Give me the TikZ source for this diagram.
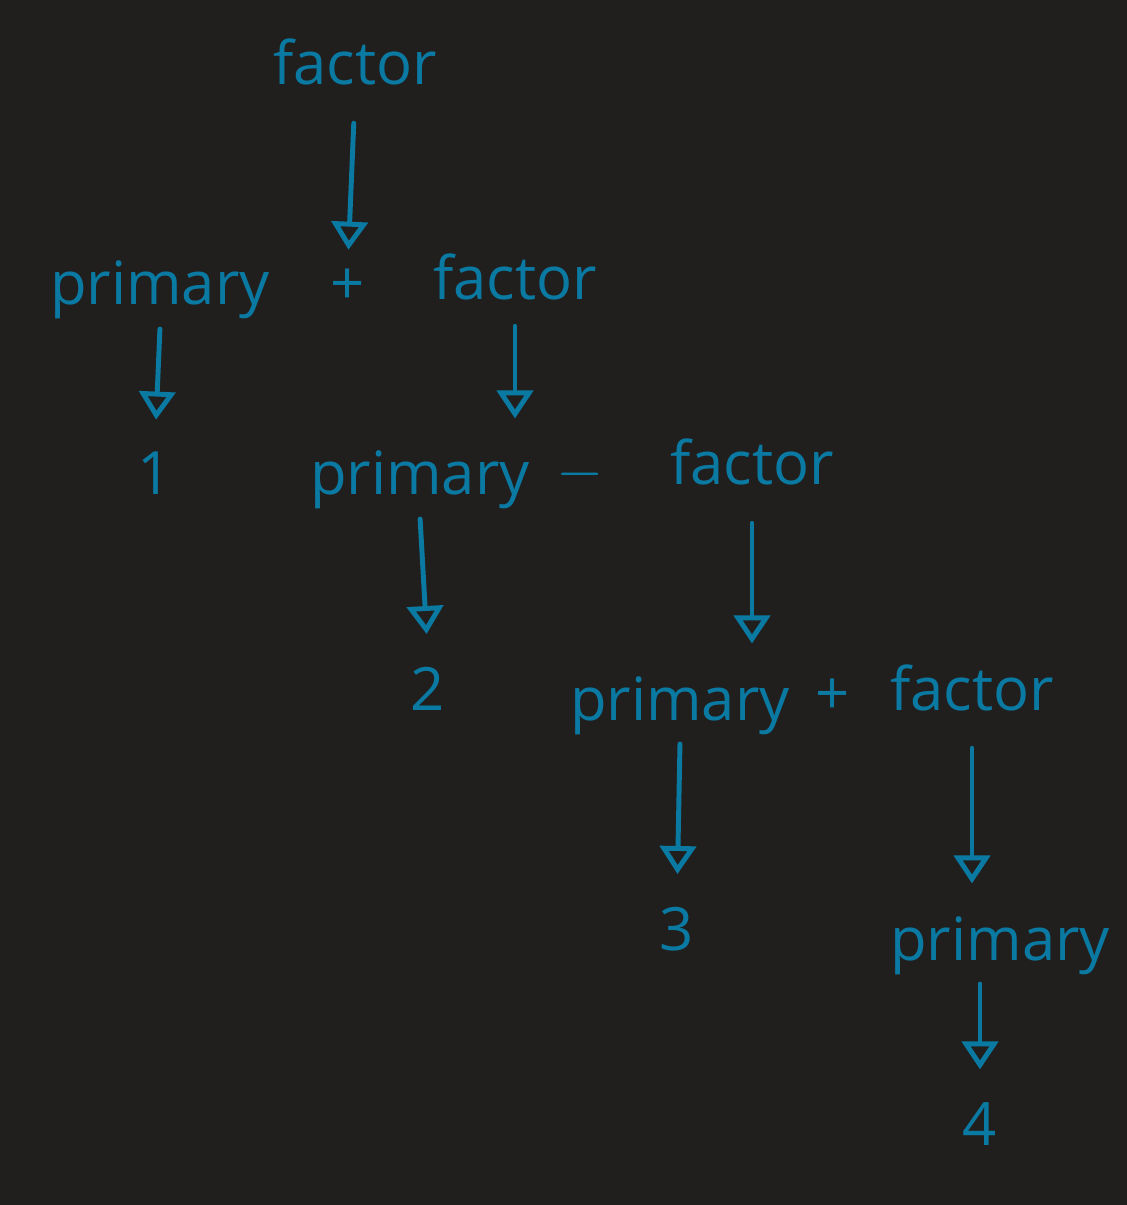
\documentclass[tikz,border=0pt]{standalone}
\usepackage{fontspec}
\setmainfont{Open Sans}
\usetikzlibrary{arrows.meta,positioning}
\definecolor{board}{HTML}{201F1E}
\definecolor{ink}{HTML}{0A7AA3}
\tikzset{
  word/.style={text=ink,font=\fontsize{17}{20}\selectfont,inner sep=2pt,anchor=base},
  derive/.style={-{Triangle[open,length=0.28cm,width=0.36cm]},draw=ink,line width=1.4pt,line cap=round,shorten <=0.3cm,shorten >=0.25cm},
  fromprim/.style={derive,shorten <=0.02cm}
}
\begin{document}
\begin{tikzpicture}[x=1cm,y=1cm]
  \fill[board] (0,0) rectangle (11.27,-12.05);
  \useasboundingbox (0,0) rectangle (11.27,-12.05);
  % Top rule
  \node[word] (f0) at (3.55,-0.85) {factor};

  % factor -> primary + factor
  \node[word] (pr1) at (1.60,-3.05) {primary};
  \node[word] (pl1) at (3.48,-3.05) {+};
  \node[word] (f1) at (5.15,-3.00) {factor};
  \node[word] (n1) at (1.55,-4.95) {1};

  % factor -> primary - factor
  \node[word] (pr2) at (4.20,-4.95) {primary};
  \node[word] (mi2) at (5.80,-4.90) {$-$};
  \node[word] (f2) at (7.52,-4.85) {factor};
  \node[word] (n2) at (4.28,-7.10) {2};

  % factor -> primary + factor
  \node[word] (pr3) at (6.80,-7.20) {primary};
  \node[word] (pl3) at (8.33,-7.15) {+};
  \node[word] (f3) at (9.72,-7.10) {factor};
  \node[word] (n3) at (6.77,-9.50) {3};

  % last factor
  \node[word] (pr4) at (10.00,-9.60) {primary};
  \node[word] (n4) at (9.80,-11.45) {4};

  % Derivation arrows
  \draw[derive, shorten >=0.12cm] (f0.south) -- (pl1.north);
  \draw[fromprim] (pr1.south) -- (n1.north);
  \draw[derive, shorten <=0.18cm] (f1.south) -- (pr2.north -| f1.south);
  \draw[fromprim] (pr2.south) -- (n2.north);
  \draw[derive] (f2.south) -- (pr3.north -| f2.south);
  \draw[fromprim] (pr3.south) -- (n3.north);
  \draw[derive] (f3.south) -- (pr4.north -| f3.south);
  \draw[fromprim] (pr4.south -| n4.north) -- (n4.north);
\end{tikzpicture}
\end{document}
